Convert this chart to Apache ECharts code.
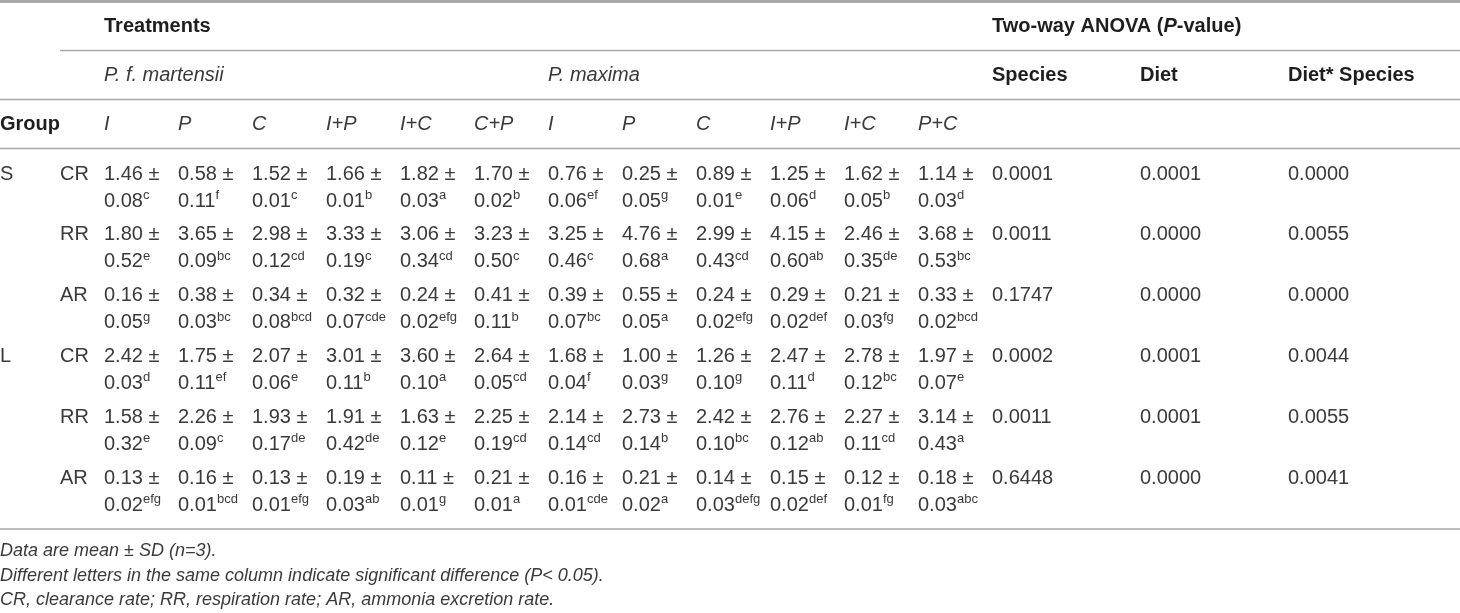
<!DOCTYPE html>
<html>
<head>
<meta charset="utf-8">
<style>
  html, body { margin: 0; padding: 0; background: #fff; }
  #chart { width: 1460px; height: 613px; }
</style>
<script src="https://cdn.jsdelivr.net/npm/echarts/dist/echarts.min.js"></script>
</head>
<body>
<div id="chart"></div>
<script>
// ---------------- DATA ----------------
const speciesNames = ['P. f. martensii', 'P. maxima'];
const dietsA = ['I', 'P', 'C', 'I+P', 'I+C', 'C+P'];
const dietsB = ['I', 'P', 'C', 'I+P', 'I+C', 'P+C'];
const groupLabels = ['S', '', '', 'L', '', ''];
const rateLabels = ['CR', 'RR', 'AR', 'CR', 'RR', 'AR'];
const anovaLabels = ['Species', 'Diet', 'Diet* Species'];

const means = [
  [1.46, 0.58, 1.52, 1.66, 1.82, 1.70, 0.76, 0.25, 0.89, 1.25, 1.62, 1.14],
  [1.80, 3.65, 2.98, 3.33, 3.06, 3.23, 3.25, 4.76, 2.99, 4.15, 2.46, 3.68],
  [0.16, 0.38, 0.34, 0.32, 0.24, 0.41, 0.39, 0.55, 0.24, 0.29, 0.21, 0.33],
  [2.42, 1.75, 2.07, 3.01, 3.60, 2.64, 1.68, 1.00, 1.26, 2.47, 2.78, 1.97],
  [1.58, 2.26, 1.93, 1.91, 1.63, 2.25, 2.14, 2.73, 2.42, 2.76, 2.27, 3.14],
  [0.13, 0.16, 0.13, 0.19, 0.11, 0.21, 0.16, 0.21, 0.14, 0.15, 0.12, 0.18]
];
const sds = [
  [0.08, 0.11, 0.01, 0.01, 0.03, 0.02, 0.06, 0.05, 0.01, 0.06, 0.05, 0.03],
  [0.52, 0.09, 0.12, 0.19, 0.34, 0.50, 0.46, 0.68, 0.43, 0.60, 0.35, 0.53],
  [0.05, 0.03, 0.08, 0.07, 0.02, 0.11, 0.07, 0.05, 0.02, 0.02, 0.03, 0.02],
  [0.03, 0.11, 0.06, 0.11, 0.10, 0.05, 0.04, 0.03, 0.10, 0.11, 0.12, 0.07],
  [0.32, 0.09, 0.17, 0.42, 0.12, 0.19, 0.14, 0.14, 0.10, 0.12, 0.11, 0.43],
  [0.02, 0.01, 0.01, 0.03, 0.01, 0.01, 0.01, 0.02, 0.03, 0.02, 0.01, 0.03]
];
const letters = [
  ['c', 'f', 'c', 'b', 'a', 'b', 'ef', 'g', 'e', 'd', 'b', 'd'],
  ['e', 'bc', 'cd', 'c', 'cd', 'c', 'c', 'a', 'cd', 'ab', 'de', 'bc'],
  ['g', 'bc', 'bcd', 'cde', 'efg', 'b', 'bc', 'a', 'efg', 'def', 'fg', 'bcd'],
  ['d', 'ef', 'e', 'b', 'a', 'cd', 'f', 'g', 'g', 'd', 'bc', 'e'],
  ['e', 'c', 'de', 'de', 'e', 'cd', 'cd', 'b', 'bc', 'ab', 'cd', 'a'],
  ['efg', 'bcd', 'efg', 'ab', 'g', 'a', 'cde', 'a', 'defg', 'def', 'fg', 'abc']
];
const pSpecies = ['0.0001', '0.0011', '0.1747', '0.0002', '0.0011', '0.6448'];
const pDiet = ['0.0001', '0.0000', '0.0000', '0.0001', '0.0001', '0.0000'];
const pDietSpecies = ['0.0000', '0.0055', '0.0000', '0.0044', '0.0055', '0.0041'];
const footnotes = [
  'Data are mean ± SD (n=3).',
  'Different letters in the same column indicate significant difference (P< 0.05).',
  'CR, clearance rate; RR, respiration rate; AR, ammonia excretion rate.'
];

// ---------------- LAYOUT / STYLE ----------------
const FAMILY = '"Liberation Sans", Arial, Helvetica, sans-serif';
const FS = 20;
const TXT = '#3a3a3a';
const HEAD = '#1e1e1e';
const RULE = '#a8a8a8';
const COL_GROUP = -104 / 74;   // column index where row group labels sit
const COL_RATE = -44 / 74;     // column index where rate labels sit
const COL_ANOVA = [12, 14, 16];
const SD_OFFSET = 27;
const BOTTOM_RULE_ROW = 5.84;

function font(weight, style, size) {
  return (style || 'normal') + ' ' + (weight || 'normal') + ' ' + (size || FS) + 'px ' + FAMILY;
}

// ---------------- CELLS ----------------
const headCells = [];
headCells.push({ x: 0, y: 0, text: 'Treatments', font: font('bold'), fill: HEAD });
headCells.push({ x: COL_ANOVA[0], y: 0, rich: true,
  text: '{b|Two-way ANOVA (}{bi|P}{b|-value)}' });
headCells.push({ x: 0, y: 1, text: speciesNames[0], font: font('normal', 'italic'), fill: TXT });
headCells.push({ x: dietsA.length, y: 1, text: speciesNames[1], font: font('normal', 'italic'), fill: TXT });
anovaLabels.forEach((t, i) => headCells.push({ x: COL_ANOVA[i], y: 1, text: t, font: font('bold'), fill: HEAD }));
headCells.push({ x: COL_GROUP, y: 2, text: 'Group', font: font('bold'), fill: HEAD });
dietsA.concat(dietsB).forEach((t, i) => headCells.push({ x: i, y: 2, text: t, font: font('normal', 'italic'), fill: TXT }));

const bodyCells = [];
rateLabels.forEach((r, row) => {
  if (groupLabels[row]) bodyCells.push({ x: COL_GROUP, y: row, text: groupLabels[row] });
  bodyCells.push({ x: COL_RATE, y: row, text: r });
  means[row].forEach((m, c) => {
    bodyCells.push({ x: c, y: row, text: m.toFixed(2) + ' ±', sd: sds[row][c].toFixed(2), sup: letters[row][c] });
  });
  [pSpecies, pDiet, pDietSpecies].forEach((arr, k) => {
    bodyCells.push({ x: COL_ANOVA[k], y: row, text: arr[row] });
  });
});

const headRules = [
  { x: COL_GROUP, y: -0.5, w: 3 },
  { x: COL_RATE, y: 0.5, w: 1.5 },
  { x: COL_GROUP, y: 1.5, w: 1.5 },
  { x: COL_GROUP, y: 2.5, w: 1.5 }
];
const bodyRules = [{ x: COL_GROUP, y: BOTTOM_RULE_ROW, w: 1.5 }];

function renderHead(params, api) {
  const c = headCells[params.dataIndex];
  const p = api.coord([c.x, c.y]);
  if (c.rich) {
    return { type: 'text', x: p[0], y: p[1], style: {
      text: c.text, verticalAlign: 'middle', align: 'left',
      rich: {
        b: { font: font('bold'), fill: HEAD },
        bi: { font: font('bold', 'italic'), fill: HEAD }
      }
    }};
  }
  return { type: 'text', x: p[0], y: p[1], style: {
    text: c.text, font: c.font, fill: c.fill, verticalAlign: 'middle', align: 'left' } };
}

function renderBody(params, api) {
  const c = bodyCells[params.dataIndex];
  const p = api.coord([c.x, c.y]);
  const children = [{ type: 'text', x: p[0], y: p[1], style: {
    text: c.text, font: font(), fill: TXT, verticalAlign: 'middle', align: 'left' } }];
  if (c.sd !== undefined) {
    children.push({ type: 'text', x: p[0], y: p[1] + SD_OFFSET, style: {
      text: '{v|' + c.sd + '}{s|' + c.sup + '}', verticalAlign: 'middle', align: 'left',
      rich: {
        v: { font: font(), fill: TXT },
        s: { font: font('normal', 'normal', 13), fill: TXT, padding: [0, 0, 11, 0] }
      }
    }});
  }
  return { type: 'group', children: children };
}

function makeRuleRenderer(list) {
  return function (params, api) {
    const r = list[params.dataIndex];
    const p = api.coord([r.x, r.y]);
    return { type: 'line', shape: { x1: p[0], y1: p[1], x2: api.getWidth(), y2: p[1] },
      style: { stroke: RULE, lineWidth: r.w } };
  };
}

const chart = echarts.init(document.getElementById('chart'), null, { renderer: 'canvas' });
const hiddenX = { type: 'value', min: 0, max: 16, show: false };
chart.setOption({
  animation: false,
  backgroundColor: '#ffffff',
  grid: [
    { left: 104, right: 172, top: 26, height: 98 },
    { left: 104, right: 172, top: 174, height: 304 }
  ],
  xAxis: [Object.assign({ gridIndex: 0 }, hiddenX), Object.assign({ gridIndex: 1 }, hiddenX)],
  yAxis: [
    { gridIndex: 0, type: 'value', min: 0, max: 2, inverse: true, show: false },
    { gridIndex: 1, type: 'value', min: 0, max: 5, inverse: true, show: false }
  ],
  graphic: footnotes.map((t, i) => ({
    type: 'text', x: 0, y: 551 + i * 24.5,
    style: { text: t, font: font('normal', 'italic', 18), fill: TXT, verticalAlign: 'middle' }
  })),
  series: [
    { type: 'custom', xAxisIndex: 0, yAxisIndex: 0, renderItem: makeRuleRenderer(headRules),
      data: headRules.map(r => [r.x, r.y]), silent: true },
    { type: 'custom', xAxisIndex: 1, yAxisIndex: 1, renderItem: makeRuleRenderer(bodyRules),
      data: bodyRules.map(r => [r.x, r.y]), silent: true },
    { type: 'custom', xAxisIndex: 0, yAxisIndex: 0, renderItem: renderHead,
      data: headCells.map(c => [c.x, c.y]), silent: true },
    { type: 'custom', xAxisIndex: 1, yAxisIndex: 1, renderItem: renderBody,
      data: bodyCells.map(c => [c.x, c.y]), silent: true }
  ]
});
</script>
</body>
</html>
